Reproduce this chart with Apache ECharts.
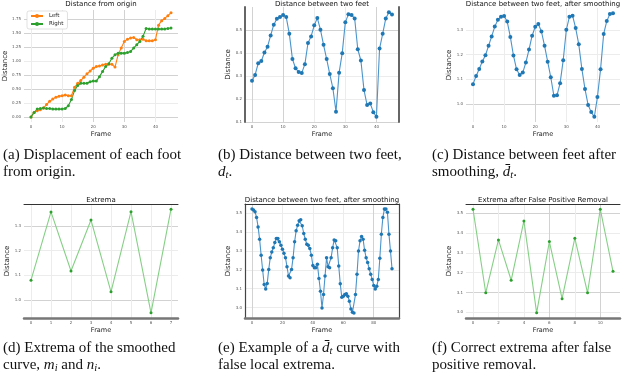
<!DOCTYPE html>
<html>
<head>
<meta charset="utf-8">
<script src="https://cdn.jsdelivr.net/npm/echarts@6/dist/echarts.min.js"></script>
<style>
html, body { margin: 0; padding: 0; background: #fff; }
#main { width: 640px; height: 380px; }
</style>
</head>
<body>
<div id="main"></div>
<script>
var chartDom = document.getElementById('main');
var myChart = echarts.init(chartDom);
var option;

// (a) displacement of each foot, frames 0..45
var leftFoot = [0.00, 0.08, 0.11, 0.13, 0.16, 0.22, 0.28, 0.32, 0.35, 0.37, 0.38, 0.39, 0.38, 0.38, 0.53, 0.60,
    0.65, 0.71, 0.77, 0.82, 0.87, 0.90, 0.91, 0.93, 0.94, 0.94, 0.94, 0.89, 1.11, 1.23, 1.35, 1.39, 1.41, 1.42,
    1.38, 1.38, 1.39, 1.36, 1.36, 1.36, 1.38, 1.64, 1.72, 1.76, 1.81, 1.86];
var rightFoot = [0.00, 0.08, 0.14, 0.15, 0.16, 0.15, 0.15, 0.14, 0.14, 0.14, 0.14, 0.15, 0.20, 0.31, 0.47, 0.56,
    0.60, 0.60, 0.60, 0.63, 0.64, 0.64, 0.72, 0.81, 0.90, 0.95, 1.05, 1.11, 1.14, 1.14, 1.14, 1.15, 1.17, 1.23,
    1.29, 1.35, 1.44, 1.58, 1.57, 1.57, 1.57, 1.57, 1.57, 1.57, 1.58, 1.59];

// (b) distance between two feet
var feetDistance = [0.279, 0.304, 0.355, 0.365, 0.402, 0.427, 0.476, 0.523, 0.549, 0.556, 0.565, 0.556, 0.483,
    0.373, 0.333, 0.317, 0.313, 0.351, 0.443, 0.472, 0.520, 0.552, 0.501, 0.435, 0.373, 0.308, 0.246, 0.144,
    0.314, 0.399, 0.534, 0.568, 0.565, 0.550, 0.416, 0.367, 0.238, 0.173, 0.180, 0.142, 0.122, 0.419, 0.483,
    0.550, 0.577, 0.567];

// (c) after smoothing
var feetSmoothed = [1.080, 1.113, 1.141, 1.172, 1.197, 1.235, 1.273, 1.313, 1.340, 1.353, 1.356, 1.333, 1.271,
    1.196, 1.140, 1.117, 1.127, 1.168, 1.220, 1.276, 1.312, 1.323, 1.293, 1.235, 1.171, 1.108, 1.033, 1.035,
    1.084, 1.177, 1.300, 1.353, 1.357, 1.307, 1.241, 1.141, 1.060, 0.996, 0.967, 0.948, 1.028, 1.140, 1.283,
    1.335, 1.364, 1.367];

// (d) extrema of the smoothed curve
var smoothExtrema = [1.080, 1.356, 1.117, 1.323, 1.033, 1.357, 0.948, 1.367];

// (e) smoothed curve with false local extrema
var exampleSmoothed = [3.521, 3.516, 3.507, 3.477, 3.427, 3.362, 3.277, 3.199, 3.122, 3.099, 3.128, 3.202, 3.264,
    3.294, 3.317, 3.344, 3.365, 3.365, 3.348, 3.330, 3.309, 3.287, 3.264, 3.216, 3.167, 3.158, 3.202, 3.264,
    3.348, 3.406, 3.436, 3.459, 3.465, 3.433, 3.392, 3.362, 3.335, 3.330, 3.312, 3.277, 3.223, 3.211, 3.211,
    3.229, 3.154, 3.087, 2.998, 3.069, 3.167, 3.264, 3.216, 3.211, 3.264, 3.317, 3.358, 3.353, 3.317, 3.220,
    3.126, 3.055, 3.060, 3.069, 3.073, 3.060, 3.034, 2.993, 2.975, 2.972, 3.069, 3.176, 3.300, 3.353, 3.376,
    3.362, 3.303, 3.264, 3.238, 3.206, 3.176, 3.149, 3.117, 3.099, 3.113, 3.149, 3.261, 3.388, 3.477, 3.521,
    3.521, 3.504, 3.388, 3.300, 3.206];

// (f) extrema after false positive removal
var correctedExtrema = [3.520, 3.099, 3.365, 3.162, 3.461, 2.998, 3.357, 3.069, 3.374, 3.099, 3.520, 3.207];

var titles = ['Distance from origin', 'Distance between two feet', 'Distance between two feet, after smoothing',
    'Extrema', 'Distance between two feet, after smoothing', 'Extrema after False Positive Removal'];

var captions = [
    '(a) Displacement of each foot\nfrom origin.',
    '(b) Distance between two feet,\n{i|d}{s|t}.',
    '(c) Distance between feet after\nsmoothing, {i|d\u0304}{s|t}.',
    '(d) Extrema of the smoothed\ncurve, {i|m}{s|i} and {i|n}{s|i}.',
    '(e) Example of a {i|d\u0304}{s|t} curve with\nfalse local extrema.',
    '(f) Correct extrema after false\npositive removal.'
];

function toPairs(arr) {
    return arr.map(function (v, i) { return [i, v]; });
}

var LIGHT = '#ececec', MID = '#d2d2d2';
var panels = [
    {left: 24, top: 10, height: 112, x: [-2.25, 47.25, 10], y: [-0.091, 1.911, 0.25], fmt: 2,
        xLines: [LIGHT, LIGHT, MID, MID, LIGHT], yLines: [MID, LIGHT, MID, MID, LIGHT, MID, MID, MID]},
    {left: 245, top: 7, height: 115, x: [-2.25, 47.25, 10], y: [0.099, 0.6, 0.1], fmt: 1,
        xLines: [MID, MID, LIGHT, LIGHT, MID], yLines: [MID, LIGHT, LIGHT, LIGHT],
        spines: {left: ['#666', 2], right: ['#666', 2]}},
    {left: 466, top: 8, height: 114, x: [-2.25, 47.25, 10], y: [0.927, 1.388, 0.1], fmt: 1,
        xLines: [LIGHT, LIGHT, MID, LIGHT, LIGHT], yLines: [MID, LIGHT, LIGHT, LIGHT]},
    {left: 24, top: 204, height: 114, x: [-0.35, 7.35, 1], y: [0.927, 1.388, 0.1], fmt: 1,
        xLines: [LIGHT], yLines: [MID, LIGHT, LIGHT, MID],
        spines: {top: ['#333', 1], bottom: ['#777', 2.5]}},
    {left: 245, top: 204, height: 114, x: [-4.6, 96.6, 20], y: [2.945, 3.548, 0.1], fmt: 1,
        xLines: [MID, LIGHT, LIGHT, LIGHT, MID], yLines: [LIGHT],
        spines: {top: ['#333', 1], bottom: ['#777', 2.5], left: ['#444', 1.2], right: ['#444', 1.2]}},
    {left: 466, top: 204, height: 114, x: [-0.55, 11.55, 2], y: [2.972, 3.546, 0.1], fmt: 1,
        xLines: [LIGHT, LIGHT, LIGHT, MID, LIGHT, MID], yLines: [LIGHT, MID, LIGHT, LIGHT, LIGHT, MID],
        spines: {top: ['#333', 1], bottom: ['#777', 2.5]}}
];

var tickFont = {fontSize: 4, color: '#555', fontFamily: 'DejaVu Sans'};
var grids = [], xAxes = [], yAxes = [], graphics = [];

panels.forEach(function (p, i) {
    var sp = p.spines || {};
    grids.push({left: p.left, top: p.top, width: 154, height: p.height, containLabel: false, outerBoundsMode: 'none'});
    xAxes.push({
        gridIndex: i, type: 'value', min: p.x[0], max: p.x[1], minInterval: p.x[2], maxInterval: p.x[2],
        name: 'Frame', nameLocation: 'middle', nameGap: 9,
        nameTextStyle: {fontSize: 6.5, color: '#222', fontFamily: 'DejaVu Sans'},
        axisLine: {show: !!sp.bottom, onZero: false, lineStyle: sp.bottom ? {color: sp.bottom[0], width: sp.bottom[1]} : {}},
        axisTick: {show: false},
        axisLabel: Object.assign({margin: 3, showMinLabel: false, showMaxLabel: false}, tickFont),
        splitLine: {show: true, showMinLine: false, showMaxLine: false, lineStyle: {color: p.xLines, width: 1}}
    });
    xAxes.push({
        gridIndex: i, type: 'value', position: 'top', min: p.x[0], max: p.x[1],
        axisLine: {show: !!sp.top, onZero: false, lineStyle: sp.top ? {color: sp.top[0], width: sp.top[1]} : {}},
        axisTick: {show: false}, axisLabel: {show: false}, splitLine: {show: false}
    });
    yAxes.push({
        gridIndex: i, type: 'value', min: p.y[0], max: p.y[1], minInterval: p.y[2], maxInterval: p.y[2],
        name: 'Distance', nameLocation: 'middle', nameGap: 9,
        nameTextStyle: {fontSize: 7, color: '#222', fontFamily: 'DejaVu Sans'},
        axisLine: {show: !!sp.left, onZero: false, lineStyle: sp.left ? {color: sp.left[0], width: sp.left[1]} : {}},
        axisTick: {show: false},
        axisLabel: Object.assign({margin: 3, showMinLabel: false, showMaxLabel: false,
            formatter: (function (d) { return function (v) { return v.toFixed(d); }; })(p.fmt)}, tickFont),
        splitLine: {show: true, showMinLine: false, showMaxLine: false, lineStyle: {color: p.yLines, width: 1}}
    });
    yAxes.push({
        gridIndex: i, type: 'value', position: 'right', min: p.y[0], max: p.y[1],
        axisLine: {show: !!sp.right, onZero: false, lineStyle: sp.right ? {color: sp.right[0], width: sp.right[1]} : {}},
        axisTick: {show: false}, axisLabel: {show: false}, splitLine: {show: false}
    });
    graphics.push({
        type: 'text', x: p.left + 77, y: p.top < 100 ? 4 : 200, z: 10,
        style: {text: titles[i], align: 'center', verticalAlign: 'middle', fill: '#111',
            fontFamily: 'DejaVu Sans', fontSize: 7}
    });
});

var capRich = {
    i: {fontFamily: 'Liberation Serif', fontSize: 15, fontStyle: 'italic', fill: '#111', lineHeight: 17.5},
    s: {fontFamily: 'Liberation Serif', fontSize: 10.5, fontStyle: 'italic', fill: '#111', lineHeight: 17.5,
        verticalAlign: 'bottom', padding: [6, 0, 0, 0]}
};
var capX = [3, 218, 432];
captions.forEach(function (c, i) {
    graphics.push({
        type: 'text', x: capX[i % 3], y: i < 3 ? 146 : 339, z: 10,
        style: {text: c, fontFamily: 'Liberation Serif', fontSize: 15, lineHeight: 17.5, fill: '#111', rich: capRich}
    });
});

function lineSeries(name, idx, data, color, lineColor, size) {
    return {
        name: name, type: 'line', xAxisIndex: idx * 2, yAxisIndex: idx * 2, data: toPairs(data),
        symbol: 'circle', symbolSize: size, showSymbol: true,
        itemStyle: {color: color}, lineStyle: {color: lineColor, width: 1.1}, emphasis: {disabled: true}
    };
}

option = {
    animation: false,
    backgroundColor: '#fff',
    grid: grids,
    xAxis: xAxes,
    yAxis: yAxes,
    legend: {
        data: ['Left', 'Right'], left: 27, top: 11, orient: 'vertical',
        itemWidth: 12, itemHeight: 5, itemGap: 2, padding: [2, 4, 2, 3],
        borderColor: '#ccc', borderWidth: 0.6, borderRadius: 2, backgroundColor: '#fff',
        textStyle: {fontSize: 5.5, color: '#222', fontFamily: 'DejaVu Sans', padding: [0, 0, 0, 1]}
    },
    graphic: graphics,
    series: [
        lineSeries('Left', 0, leftFoot, '#ff7f0e', '#ff7f0e', 3),
        lineSeries('Right', 0, rightFoot, '#2ca02c', '#2ca02c', 3),
        lineSeries('b', 1, feetDistance, '#1f77b4', '#4b94cc', 4),
        lineSeries('c', 2, feetSmoothed, '#1f77b4', '#4b94cc', 4),
        lineSeries('d', 3, smoothExtrema, '#2ca02c', '#86cf86', 3),
        lineSeries('e', 4, exampleSmoothed, '#1f77b4', '#4b94cc', 3.5),
        lineSeries('f', 5, correctedExtrema, '#2ca02c', '#86cf86', 3)
    ]
};

option && myChart.setOption(option);
</script>
</body>
</html>
